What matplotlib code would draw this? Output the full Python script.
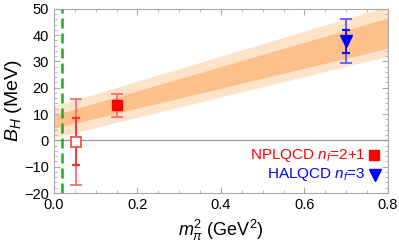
import matplotlib.pyplot as plt
import numpy as np

plt.rcParams['font.family'] = ['Liberation Sans', 'DejaVu Sans']
plt.rcParams['mathtext.fontset'] = 'custom'
plt.rcParams['mathtext.rm'] = 'Liberation Sans'
plt.rcParams['mathtext.it'] = 'Liberation Sans:italic'

# fit bands (edges at m_pi^2 = 0 and 0.8)
band_x = [0.0, 0.8]
outer_lo = [1.0, 32.0]
outer_hi = [13.0, 51.0]
inner_lo = [4.6, 35.0]
inner_hi = [9.6, 46.5]

# NPLQCD points
npl_x = [0.053, 0.152]
npl_y = [-0.6, 13.3]
npl_err_in = [8.9, 1.8]
npl_err_out = [16.2, 4.4]

# HALQCD point
hal_x = [0.70]
hal_y = [37.6]
hal_err_in = [4.3]
hal_err_out = [8.4]

phys_x = 0.0196

fig = plt.figure(figsize=(3.99, 2.44), dpi=100)
ax = fig.add_axes([0.1353, 0.209, 0.8371, 0.7553])

ax.fill_between(band_x, outer_lo, outer_hi, color='#fde3c8', lw=0, zorder=1)
ax.fill_between(band_x, inner_lo, inner_hi, color='#fdc08a', lw=0, zorder=2)
ax.axhline(0, color='#999999', lw=0.9, zorder=2)
ax.axvline(phys_x, color='#22aa22', lw=1.8, ls=(0, (4, 2)), zorder=3)

red_err = '#ff6b6b'
ax.errorbar(npl_x, npl_y, yerr=npl_err_out, fmt='none', ecolor=red_err,
            elinewidth=1.3, capsize=4, capthick=1.3, zorder=4)
ax.errorbar(npl_x, npl_y, yerr=npl_err_in, fmt='none', ecolor='#ff3030',
            elinewidth=1.3, capsize=3, capthick=1.6, zorder=4)
ax.plot(npl_x[0], npl_y[0], 's', ms=7, mfc='white', mec='#ff5050', mew=1.3, zorder=5)
ax.plot(npl_x[1], npl_y[1], 's', ms=7, color='#ff0000', zorder=5)

blue_err = '#5b5bff'
ax.errorbar(hal_x, hal_y, yerr=hal_err_out, fmt='none', ecolor=blue_err,
            elinewidth=1.3, capsize=4, capthick=1.3, zorder=4)
ax.errorbar(hal_x, hal_y, yerr=hal_err_in, fmt='none', ecolor='#1010ff',
            elinewidth=1.3, capsize=3, capthick=1.6, zorder=4)
ax.plot(hal_x, hal_y, 'v', ms=8, color='#0000ff', zorder=5)

ax.set_xlim(0, 0.8)
ax.set_ylim(-20, 50)
ax.set_xticks([0.0, 0.2, 0.4, 0.6, 0.8])
ax.set_xticklabels(['0.0', '0.2', '0.4', '0.6', '0.8'])
ax.set_yticks(np.arange(-20, 51, 10))
ax.set_yticklabels(['\u221220', '\u221210', '0', '10', '20', '30', '40', '50'])
ax.set_xticks(np.arange(0, 0.81, 0.05), minor=True)
ax.set_yticks(np.arange(-20, 51, 2), minor=True)
ax.tick_params(which='both', direction='in', top=True, right=True,
               color='#aaaaaa', labelsize=10.5)
ax.tick_params(which='major', length=4)
ax.tick_params(which='minor', length=2)
for s in ax.spines.values():
    s.set_color('#aaaaaa')

ax.set_xlabel(r'$m_\pi^2$ (GeV$^2$)', fontsize=13)
ax.set_ylabel(r'$B_H$ (MeV)', fontsize=14, labelpad=0)

# legend: text plus marker
ax.text(0.933, 0.206, 'NPLQCD $n_f$=2+1', transform=ax.transAxes,
        ha='right', va='center', color='#ff0000', fontsize=11)
ax.plot([0.958], [0.206], 's', ms=7, color='#ff0000', transform=ax.transAxes,
        clip_on=False, zorder=6)
ax.text(0.933, 0.098, 'HALQCD $n_f$=3', transform=ax.transAxes,
        ha='right', va='center', color='#0000ff', fontsize=11)
ax.plot([0.962], [0.098], 'v', ms=8, color='#0000ff', transform=ax.transAxes,
        clip_on=False, zorder=6)

fig.savefig('out.png', dpi=100)
